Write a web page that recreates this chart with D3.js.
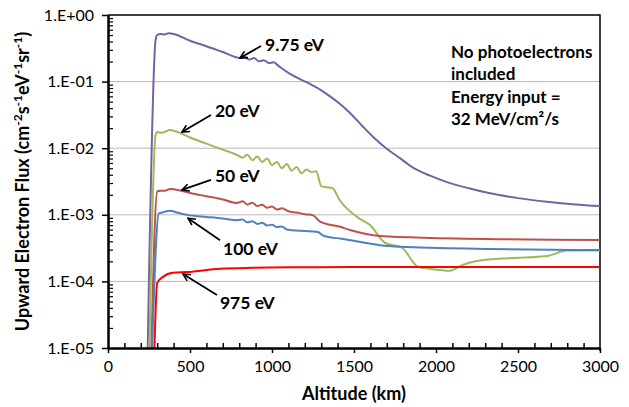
<!DOCTYPE html>
<html>
<head>
<meta charset="utf-8">
<script src="https://cdn.jsdelivr.net/npm/d3@7"></script>
<style>
  body { margin: 0; background: #fff; }
  text { font-family: Lato, "Liberation Sans", sans-serif; }
</style>
</head>
<body>
<div id="container"></div>
<script>
/* DATA */
const seriesNames = ["9.75 eV", "20 eV", "50 eV", "100 eV", "975 eV"];

const alt975a = [240, 290, 300, 320, 345, 370, 400, 500, 600, 700, 805, 830, 860, 890, 920, 950, 980, 1010, 1040, 1100, 1213, 1300, 1354, 1415, 1480, 1555, 1620, 1700, 1780, 1860, 1960, 2067, 2200, 2330, 2500, 2677, 2850, 3000];
const flux975a = [5e-6, 0.42, 0.5, 0.52, 0.51, 0.53, 0.52, 0.41, 0.34, 0.278, 0.226, 0.238, 0.214, 0.226, 0.202, 0.21, 0.19, 0.195, 0.172, 0.135, 0.097, 0.074, 0.06, 0.046, 0.033, 0.021, 0.0145, 0.0098, 0.0071, 0.0051, 0.0039, 0.0031, 0.0025, 0.0021, 0.00178, 0.00157, 0.00143, 0.00135];

const alt20 = [250, 290, 300, 330, 350, 380, 410, 500, 600, 700, 787, 820, 850, 880, 910, 940, 970, 1000, 1030, 1060, 1090, 1120, 1150, 1180, 1210, 1240, 1270, 1300, 1330, 1370, 1410, 1518, 1598, 1689, 1793, 1890, 1963, 2085, 2165, 2287, 2677, 2799, 3000];
const flux20 = [5e-6, 0.0158, 0.0175, 0.017, 0.0178, 0.0187, 0.018, 0.0145, 0.0117, 0.0095, 0.0079, 0.0072, 0.008, 0.0066, 0.0075, 0.0062, 0.007, 0.0056, 0.0062, 0.005, 0.0058, 0.0046, 0.0052, 0.0042, 0.0048, 0.0044, 0.0045, 0.0027, 0.0026, 0.0025, 0.0017, 0.00093, 0.0007, 0.00038, 0.00032, 0.000166, 0.000155, 0.000145, 0.000178, 0.00021, 0.00024, 0.00029, 0.00029];

const alt50 = [262, 300, 320, 345, 378, 410, 500, 600, 700, 787, 820, 850, 880, 910, 940, 970, 1000, 1030, 1060, 1100, 1150, 1200, 1250, 1293, 1415, 1476, 1659, 1963, 3000];
const flux50 = [5e-6, 0.00224, 0.0023, 0.0023, 0.00245, 0.0024, 0.00213, 0.0019, 0.0017, 0.0015, 0.0016, 0.00142, 0.00152, 0.00135, 0.00142, 0.00128, 0.00133, 0.0012, 0.00125, 0.00113, 0.00108, 0.00102, 0.00098, 0.00079, 0.00066, 0.00059, 0.00048, 0.00045, 0.00042];

const alt100 = [265, 310, 330, 350, 380, 420, 500, 600, 700, 787, 820, 850, 880, 910, 940, 970, 1000, 1030, 1060, 1091, 1150, 1200, 1280, 1310, 1354, 1415, 1659, 1963, 3000];
const flux100 = [5e-6, 0.00105, 0.00108, 0.00112, 0.00115, 0.00108, 0.00098, 0.00093, 0.00088, 0.00083, 0.00085, 0.00077, 0.0008, 0.00073, 0.00076, 0.00069, 0.00071, 0.00065, 0.00067, 0.0006, 0.00058, 0.00057, 0.00055, 0.00049, 0.00046, 0.00044, 0.00035, 0.00032, 0.000295];

const alt975 = [280, 300, 335, 396, 482, 683, 884, 1200, 1500, 3000];
const flux975 = [5e-6, 9.5e-5, 0.000117, 0.000135, 0.000138, 0.000155, 0.00016, 0.000163, 0.000165, 0.000165];

const xTicks = [0, 500, 1000, 1500, 2000, 2500, 3000];
const yTicks = [1e-5, 1e-4, 1e-3, 1e-2, 1e-1, 1];
const yTickLabels = ["1.E-05", "1.E-04", "1.E-03", "1.E-02", "1.E-01", "1.E+00"];

const noteLines = ["No photoelectrons", "included", "Energy input =", "32 MeV/cm\u00b2/s"];

/* CONSTANTS AND GLOBALS */
const W = 629, H = 407;
const plot = { left: 108, right: 600, top: 15, bottom: 348 };
const colors = ["#7b60a0", "#9bbb59", "#c0504d", "#4f81bd", "#ff0000"];
const labelSize = 17.5;

const series = [
  { name: seriesNames[0], alt: alt975a, flux: flux975a },
  { name: seriesNames[1], alt: alt20, flux: flux20 },
  { name: seriesNames[2], alt: alt50, flux: flux50 },
  { name: seriesNames[3], alt: alt100, flux: flux100 },
  { name: seriesNames[4], alt: alt975, flux: flux975 }
].map((s, i) => ({ ...s, color: colors[i], pts: s.alt.map((a, j) => [a, s.flux[j]]) }));

// arrow tips sit on the curves (data coords), tails/text offset in px
const notes = [
  { label: seriesNames[0], alt: 805, flux: 0.226, tail: [21, -12], text: [25, -13] },
  { label: seriesNames[1], alt: 451, flux: 0.0175, tail: [29, -17], text: [33, -21] },
  { label: seriesNames[2], alt: 451, flux: 0.00236, tail: [29, -10], text: [33, -14] },
  { label: seriesNames[3], alt: 488, flux: 0.00089, tail: [32, 22], text: [35, 31] },
  { label: seriesNames[4], alt: 457, flux: 0.000129, tail: [34, 21], text: [37, 29] }
];

const svg = d3.select("#container")
  .append("svg")
  .attr("width", W)
  .attr("height", H)
  .style("background-color", "#ffffff");

/* SCALES */
const xScale = d3.scaleLinear().domain([0, 3000]).range([plot.left, plot.right]);
const yScale = d3.scaleLog().domain([1e-5, 1]).range([plot.bottom, plot.top]);

svg.append("defs").append("clipPath").attr("id", "clip")
  .append("rect")
  .attr("x", plot.left).attr("y", plot.top)
  .attr("width", plot.right - plot.left).attr("height", plot.bottom - plot.top);

svg.append("defs").append("marker")
  .attr("id", "arrow")
  .attr("viewBox", "0 0 10 10")
  .attr("refX", 9).attr("refY", 5)
  .attr("markerWidth", 9).attr("markerHeight", 9)
  .attr("markerUnits", "userSpaceOnUse")
  .attr("orient", "auto-start-reverse")
  .append("path")
  .attr("d", "M1,1 L9,5 L1,9")
  .attr("fill", "none")
  .attr("stroke", "#000")
  .attr("stroke-width", 1.8);

// gridlines
svg.append("g")
  .selectAll("line")
  .data(yTicks.slice(1, -1))
  .join("line")
  .attr("x1", plot.left).attr("x2", plot.right)
  .attr("y1", d => yScale(d)).attr("y2", d => yScale(d))
  .attr("stroke", "#b8b8b8")
  .attr("stroke-width", 1);

// top & right border
svg.append("path")
  .attr("d", `M${plot.left},${plot.top}H${plot.right}V${plot.bottom + 3}`)
  .attr("fill", "none")
  .attr("stroke", "#000")
  .attr("stroke-width", 1.5);

/* LINES */
const line = d3.line()
  .curve(d3.curveMonotoneX)
  .x(d => xScale(d[0]))
  .y(d => yScale(d[1]));

svg.append("g")
  .attr("clip-path", "url(#clip)")
  .selectAll("path")
  .data(series)
  .join("path")
  .attr("d", d => line(d.pts))
  .attr("fill", "none")
  .attr("stroke", d => d.color)
  .attr("stroke-width", 2)
  .attr("stroke-linejoin", "round");

/* AXES */
// minor x ticks (inside)
svg.append("g")
  .attr("transform", `translate(0,${plot.bottom})`)
  .call(d3.axisTop(xScale).tickValues(d3.range(100, 3000, 100).filter(v => v % 500)).tickSize(5).tickFormat(""))
  .call(g => g.select(".domain").remove())
  .call(g => g.selectAll("line").attr("stroke-width", 1.5));

const xAxis = svg.append("g")
  .attr("transform", `translate(0,${plot.bottom})`)
  .call(d3.axisBottom(xScale).tickValues(xTicks).tickSize(5).tickSizeOuter(0).tickPadding(8)
    .tickFormat(d3.format("d")));
xAxis.select(".domain").attr("stroke-width", 2.5);
xAxis.selectAll("line").attr("stroke-width", 1.5);
xAxis.selectAll("text").attr("font-size", 16).attr("fill", "#000");

// minor y ticks (inside)
const minorY = [];
yTicks.slice(0, -1).forEach(d => { for (let k = 2; k <= 9; k++) minorY.push(d * k); });
svg.append("g")
  .attr("transform", `translate(${plot.left},0)`)
  .call(d3.axisRight(yScale).tickValues(minorY).tickSize(5).tickFormat(""))
  .call(g => g.select(".domain").remove())
  .call(g => g.selectAll("line").attr("stroke-width", 1.2));

const yAxis = svg.append("g")
  .attr("transform", `translate(${plot.left},0)`)
  .call(d3.axisLeft(yScale).tickValues(yTicks).tickSize(6).tickSizeOuter(0).tickPadding(8)
    .tickFormat((d, i) => yTickLabels[i]));
yAxis.select(".domain").attr("stroke-width", 2.5);
yAxis.selectAll("line").attr("stroke-width", 1.5);
yAxis.selectAll("text").attr("font-size", 16).attr("fill", "#000");

// axis titles
svg.append("text")
  .attr("x", (plot.left + plot.right) / 2)
  .attr("y", 400)
  .attr("text-anchor", "middle")
  .attr("font-size", 18)
  .attr("font-weight", "bold")
  .text("Altitude (km)");

const yTitle = svg.append("text")
  .attr("transform", `translate(29,${(plot.top + plot.bottom) / 2}) rotate(-90)`)
  .attr("text-anchor", "middle")
  .attr("font-size", 18)
  .attr("font-weight", "bold");
[["Upward Electron Flux (cm", false], ["-2", true], ["s", false], ["-1", true], ["eV", false],
 ["-1", true], ["sr", false], ["-1", true], [")", false]].forEach(([t, sup]) => {
  yTitle.append("tspan")
    .attr("baseline-shift", sup ? "super" : null)
    .attr("font-size", sup ? 12 : null)
    .text(t);
});

/* ANNOTATIONS */
const ann = svg.append("g");
notes.forEach(n => {
  const tx = xScale(n.alt), ty = yScale(n.flux);
  ann.append("line")
    .attr("x1", tx + n.tail[0]).attr("y1", ty + n.tail[1])
    .attr("x2", tx).attr("y2", ty)
    .attr("stroke", "#000")
    .attr("stroke-width", 1.8)
    .attr("marker-end", "url(#arrow)");
  ann.append("text")
    .attr("x", tx + n.text[0]).attr("y", ty + n.text[1])
    .attr("dy", "0.35em")
    .attr("font-size", labelSize)
    .attr("font-weight", "bold")
    .text(n.label);
});

svg.append("g")
  .selectAll("text")
  .data(noteLines)
  .join("text")
  .attr("x", 451)
  .attr("y", (d, i) => 52 + i * 22.5)
  .attr("dy", "0.35em")
  .attr("font-size", 17)
  .attr("font-weight", "bold")
  .text(d => d);
</script>
</body>
</html>
